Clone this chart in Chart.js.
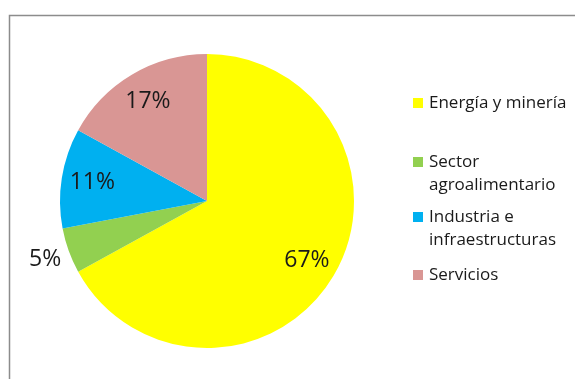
<!DOCTYPE html>
<html>
<head>
<meta charset="utf-8">
<script src="https://cdn.jsdelivr.net/npm/chart.js@4/dist/chart.umd.min.js"></script>
<style>
  html, body { margin: 0; padding: 0; background: #fff; }
  #wrap { width: 575px; height: 379px; }
</style>
</head>
<body>
<div id="wrap"><canvas id="myChart" width="575" height="379"></canvas></div>
<script>
const categories = ['Energía y minería', 'Sector agroalimentario', 'Industria e infraestructuras', 'Servicios'];
const shares = [67, 5, 11, 17];
const sliceColors = ['#ffff00', '#92d050', '#00b0f0', '#d99694'];

// vertical position of each legend entry's first line
const legendRowY = [103, 162, 217, 275];

const FONT = '"Open Sans", "Liberation Sans", sans-serif';

// split a label into lines that fit the legend column
function wrapText(ctx, text, maxWidth) {
    const words = text.split(' ');
    const lines = [];
    let line = '';
    words.forEach(w => {
        const test = line ? line + ' ' + w : w;
        if (line && ctx.measureText(test).width > maxWidth) {
            lines.push(line);
            line = w;
        } else {
            line = test;
        }
    });
    if (line) lines.push(line);
    return lines;
}

const framePlugin = {
    id: 'frame',
    beforeDraw(chart) {
        const ctx = chart.ctx;
        ctx.save();
        ctx.strokeStyle = '#8c8c8c';
        ctx.lineWidth = 1.5;
        ctx.beginPath();
        ctx.moveTo(9.5, 379);
        ctx.lineTo(9.5, 15.5);
        ctx.lineTo(575, 15.5);
        ctx.stroke();
        ctx.restore();
    }
};

const sliceLabels = {
    id: 'sliceLabels',
    afterDatasetsDraw(chart) {
        const ctx = chart.ctx;
        const meta = chart.getDatasetMeta(0);
        ctx.save();
        ctx.font = '23px ' + FONT;
        ctx.fillStyle = '#1a1a1a';
        ctx.textAlign = 'center';
        ctx.textBaseline = 'middle';
        meta.data.forEach((arc, i) => {
            const mid = (arc.startAngle + arc.endAngle) / 2;
            // small slices get their label outside the pie
            const k = shares[i] < 8 ? 1.17 : 0.79;
            const x = arc.x + Math.cos(mid) * arc.outerRadius * k;
            const y = arc.y + Math.sin(mid) * arc.outerRadius * k;
            ctx.fillText(shares[i] + '%', x, y);
        });
        ctx.restore();
    }
};

const sideLegend = {
    id: 'sideLegend',
    afterDraw(chart) {
        const ctx = chart.ctx;
        ctx.save();
        ctx.font = '17px ' + FONT;
        ctx.textBaseline = 'middle';
        categories.forEach((name, i) => {
            const y = legendRowY[i];
            ctx.fillStyle = sliceColors[i];
            ctx.fillRect(413, y - 5, 10, 10);
            ctx.fillStyle = '#1a1a1a';
            wrapText(ctx, name, 160).forEach((line, j) => {
                ctx.fillText(line, 429, y + j * 23);
            });
        });
        ctx.restore();
    }
};

new Chart(document.getElementById('myChart').getContext('2d'), {
    type: 'pie',
    data: {
        labels: categories,
        datasets: [{
            data: shares,
            backgroundColor: sliceColors,
            borderWidth: 0
        }]
    },
    options: {
        responsive: false,
        animation: false,
        layout: { padding: { left: 60, right: 221, top: 54, bottom: 31 } },
        plugins: {
            legend: { display: false },
            tooltip: { enabled: false }
        }
    },
    plugins: [framePlugin, sliceLabels, sideLegend]
});
</script>
</body>
</html>
